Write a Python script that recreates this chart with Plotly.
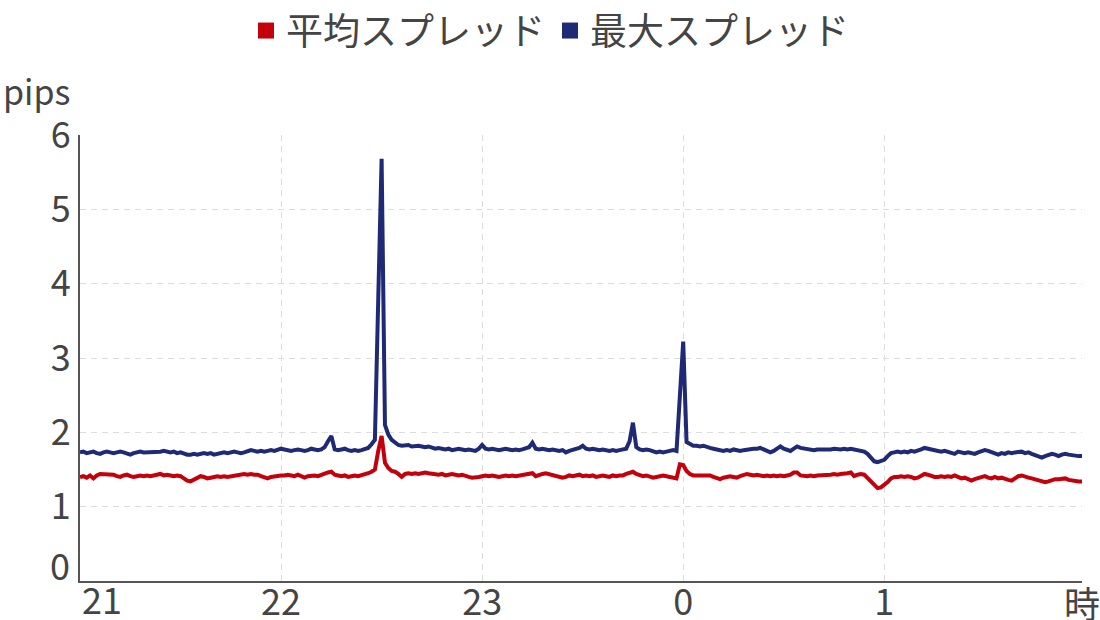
import plotly.graph_objects as go

# minutes after 21:00
minutes = list(range(300))

avg_spread = [
    1.40,1.41,1.39,1.42,1.38,1.42,1.44,1.44,1.43,1.44,
    1.43,1.41,1.40,1.42,1.43,1.41,1.40,1.41,1.42,1.41,
    1.42,1.41,1.42,1.43,1.44,1.42,1.43,1.42,1.41,1.42,
    1.41,1.38,1.35,1.34,1.36,1.39,1.41,1.40,1.38,1.39,
    1.40,1.41,1.40,1.41,1.40,1.41,1.42,1.42,1.43,1.44,
    1.43,1.44,1.43,1.43,1.41,1.39,1.38,1.40,1.41,1.42,
    1.42,1.42,1.43,1.42,1.41,1.43,1.41,1.39,1.41,1.42,
    1.42,1.41,1.43,1.44,1.46,1.47,1.43,1.42,1.41,1.42,
    1.40,1.41,1.42,1.41,1.42,1.43,1.45,1.47,1.50,1.75,
    1.95,1.59,1.52,1.48,1.47,1.44,1.40,1.44,1.45,1.44,
    1.45,1.44,1.45,1.46,1.45,1.44,1.43,1.43,1.44,1.42,
    1.43,1.44,1.43,1.42,1.43,1.41,1.40,1.39,1.39,1.40,
    1.41,1.42,1.41,1.42,1.41,1.40,1.41,1.42,1.41,1.42,
    1.41,1.42,1.43,1.44,1.44,1.45,1.41,1.43,1.44,1.45,
    1.44,1.43,1.42,1.40,1.39,1.40,1.42,1.41,1.42,1.43,
    1.41,1.42,1.41,1.42,1.40,1.41,1.42,1.41,1.40,1.42,
    1.41,1.42,1.42,1.44,1.46,1.47,1.44,1.42,1.41,1.42,
    1.40,1.39,1.40,1.41,1.42,1.41,1.40,1.39,1.38,1.57,
    1.56,1.48,1.44,1.42,1.42,1.41,1.42,1.41,1.42,1.40,
    1.38,1.37,1.39,1.40,1.41,1.40,1.39,1.41,1.43,1.44,
    1.43,1.42,1.43,1.42,1.41,1.42,1.41,1.42,1.41,1.42,
    1.41,1.42,1.43,1.46,1.46,1.42,1.41,1.41,1.42,1.41,
    1.42,1.42,1.43,1.42,1.43,1.44,1.43,1.44,1.44,1.45,
    1.46,1.41,1.43,1.44,1.43,1.38,1.34,1.29,1.25,1.26,
    1.29,1.33,1.38,1.40,1.40,1.41,1.40,1.41,1.40,1.38,
    1.39,1.42,1.44,1.43,1.41,1.40,1.40,1.41,1.40,1.41,
    1.40,1.42,1.40,1.38,1.39,1.37,1.35,1.37,1.38,1.39,
    1.41,1.39,1.38,1.40,1.38,1.39,1.37,1.36,1.35,1.38,
    1.41,1.42,1.40,1.39,1.38,1.37,1.36,1.35,1.33,1.34,
    1.36,1.37,1.37,1.38,1.38,1.36,1.35,1.34,1.34,1.34,
]

max_spread = [
    1.73,1.74,1.72,1.73,1.74,1.72,1.71,1.73,1.74,1.73,
    1.72,1.73,1.74,1.73,1.72,1.70,1.72,1.73,1.74,1.73,
    1.73,1.74,1.73,1.73,1.74,1.75,1.74,1.73,1.74,1.72,
    1.73,1.71,1.70,1.70,1.71,1.70,1.71,1.72,1.71,1.72,
    1.70,1.71,1.72,1.73,1.72,1.73,1.74,1.73,1.72,1.73,
    1.75,1.76,1.75,1.74,1.75,1.74,1.75,1.76,1.75,1.77,
    1.78,1.77,1.76,1.75,1.76,1.77,1.76,1.75,1.76,1.78,
    1.77,1.76,1.77,1.80,1.88,1.95,1.77,1.76,1.77,1.78,
    1.76,1.75,1.76,1.75,1.76,1.77,1.79,1.84,1.90,3.80,
    5.68,2.10,1.97,1.90,1.86,1.83,1.82,1.82,1.83,1.81,
    1.82,1.82,1.81,1.80,1.81,1.80,1.78,1.79,1.78,1.77,
    1.78,1.76,1.77,1.78,1.77,1.76,1.77,1.76,1.75,1.78,
    1.83,1.78,1.77,1.78,1.77,1.76,1.77,1.78,1.77,1.76,
    1.77,1.76,1.77,1.79,1.80,1.86,1.78,1.77,1.78,1.77,
    1.76,1.77,1.76,1.75,1.76,1.73,1.75,1.76,1.78,1.79,
    1.82,1.78,1.77,1.78,1.77,1.76,1.77,1.76,1.75,1.76,
    1.75,1.76,1.77,1.78,1.88,2.13,1.80,1.77,1.76,1.77,
    1.76,1.74,1.73,1.74,1.73,1.74,1.75,1.76,1.75,2.50,
    3.22,1.87,1.84,1.82,1.82,1.81,1.82,1.80,1.79,1.78,
    1.77,1.76,1.75,1.76,1.75,1.77,1.76,1.75,1.76,1.77,
    1.77,1.78,1.78,1.79,1.77,1.75,1.73,1.75,1.78,1.81,
    1.78,1.76,1.75,1.78,1.81,1.79,1.78,1.77,1.77,1.76,
    1.77,1.77,1.76,1.77,1.77,1.78,1.77,1.77,1.78,1.77,
    1.78,1.77,1.77,1.76,1.74,1.71,1.66,1.61,1.60,1.61,
    1.63,1.68,1.72,1.73,1.74,1.73,1.74,1.73,1.75,1.74,
    1.75,1.77,1.79,1.78,1.76,1.75,1.75,1.74,1.75,1.74,
    1.73,1.71,1.74,1.73,1.72,1.73,1.72,1.71,1.73,1.75,
    1.76,1.75,1.73,1.72,1.70,1.72,1.71,1.73,1.72,1.73,
    1.74,1.74,1.72,1.73,1.71,1.69,1.67,1.66,1.68,1.70,
    1.71,1.70,1.68,1.70,1.71,1.70,1.69,1.68,1.68,1.68,
]

x_tickvals = [60, 120, 180, 240]
x_ticktext = ["22", "23", "0", "1"]
y_tickvals = [1, 2, 3, 4, 5, 6]
y_ticktext = ["1", "2", "3", "4", "5", "6"]

RED = "#c4000b"
NAVY = "#1f2a77"
TXT = "#444444"
FONT = "Noto Sans CJK JP"
TICK = 36

fig = go.Figure()
fig.add_trace(go.Scatter(x=minutes, y=avg_spread, mode="lines", name="平均スプレッド",
                         line=dict(color=RED, width=4), showlegend=False))
fig.add_trace(go.Scatter(x=minutes, y=max_spread, mode="lines", name="最大スプレッド",
                         line=dict(color=NAVY, width=4), showlegend=False))
# legend entries (square markers)
fig.add_trace(go.Scatter(x=[None], y=[None], mode="markers", name="平均スプレッド",
                         marker=dict(symbol="square", color=RED, size=18)))
fig.add_trace(go.Scatter(x=[None], y=[None], mode="markers", name="最大スプレッド",
                         marker=dict(symbol="square", color=NAVY, size=18)))

fig.update_layout(
    width=1100, height=620,
    margin=dict(l=80, r=18, t=135, b=39),
    paper_bgcolor="white", plot_bgcolor="white",
    font=dict(family=FONT, size=TICK, color=TXT),
    legend=dict(orientation="h", x=0.5, xanchor="center", xref="container",
                y=1.0, yanchor="top", yref="container",
                font=dict(size=37, color=TXT), itemwidth=30,
                tracegroupgap=0, bgcolor="rgba(0,0,0,0)"),
    xaxis=dict(range=[0, 299], tickmode="array", tickvals=x_tickvals, ticktext=x_ticktext,
               showgrid=True, gridcolor="#dddddd", gridwidth=1, griddash="6px,5px",
               showline=True, linecolor="#555555", linewidth=2, ticks="",
               ticklabelstandoff=-11,
               zeroline=False, automargin=False, tickfont=dict(size=TICK, color=TXT)),
    yaxis=dict(range=[0, 6], tickmode="array", tickvals=y_tickvals, ticktext=y_ticktext,
               showgrid=True, gridcolor="#dddddd", gridwidth=1, griddash="6px,5px",
               showline=True, linecolor="#555555", linewidth=2, ticks="",
               zeroline=False, automargin=False, tickfont=dict(size=TICK, color=TXT)),
    annotations=[
        dict(text="pips", xref="paper", yref="paper", x=-0.075, y=1.0, xanchor="left",
             yanchor="bottom", xshift=-4, yshift=18, showarrow=False,
             font=dict(size=34, color=TXT)),
        dict(text="0", xref="paper", yref="y", x=0, y=0, xanchor="right", yanchor="middle",
             xshift=-8, yshift=17, showarrow=False, font=dict(size=TICK, color=TXT)),
        dict(text="21", xref="x", yref="paper", x=0, y=0, xanchor="left", yanchor="top",
             yshift=11, showarrow=False, font=dict(size=TICK, color=TXT)),
        dict(text="時", xref="paper", yref="paper", x=1, y=0, xanchor="center", yanchor="top",
             yshift=7, showarrow=False, font=dict(size=TICK, color=TXT)),
    ],
)

fig.write_html("out.html", config={"displayModeBar": False},
               post_script="document.body.style.margin='0';")
